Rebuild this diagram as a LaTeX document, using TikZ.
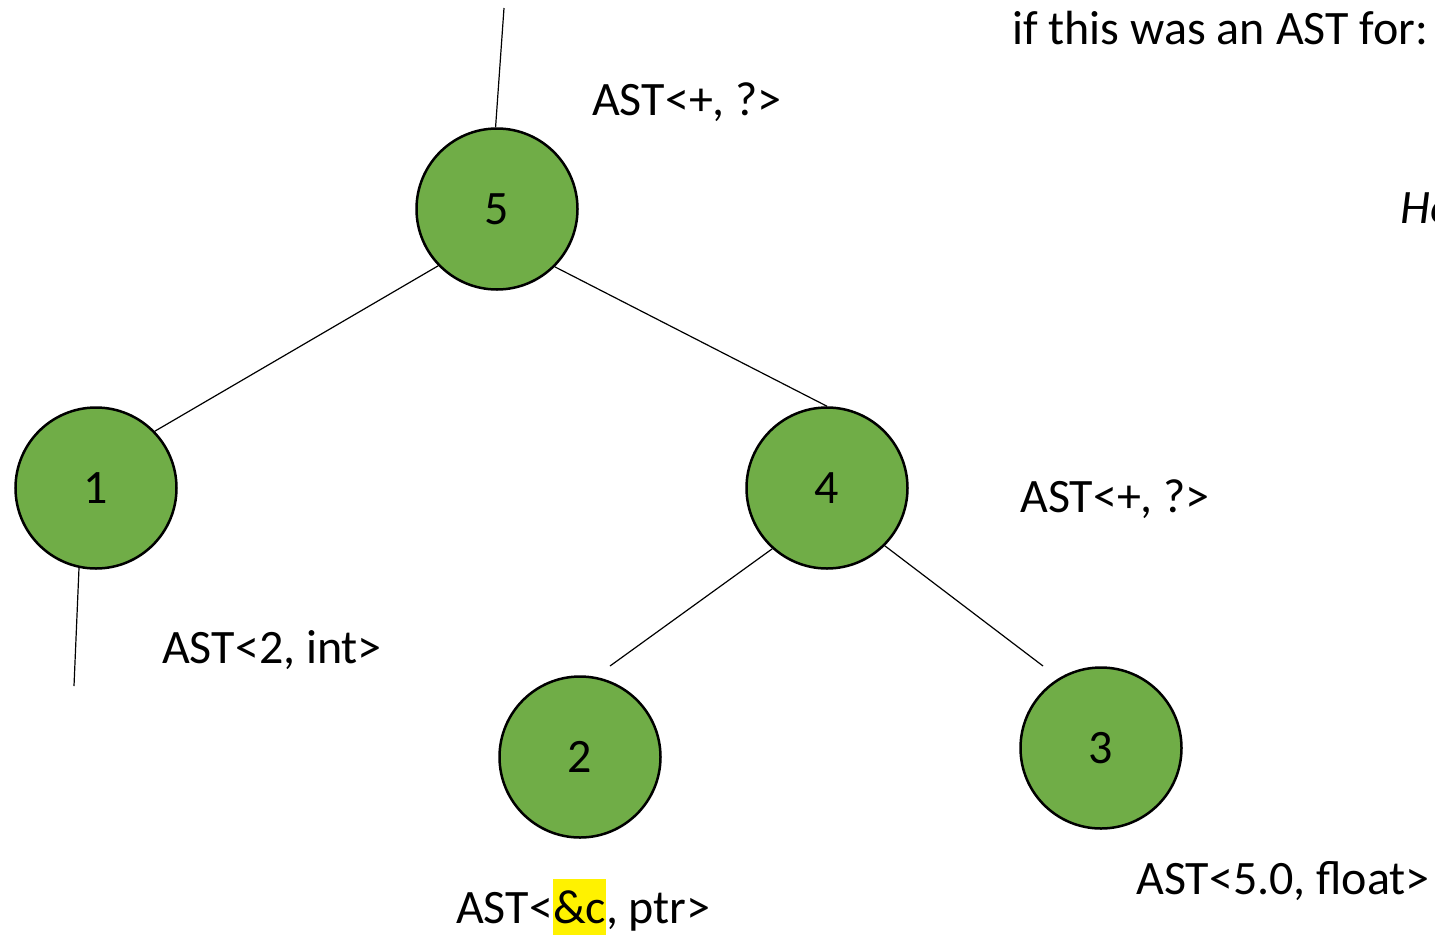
\documentclass[tikz,border=0pt]{standalone}
\usepackage{fontspec}
\setmainfont{Carlito}
\newcommand{\hlmark}[1]{{\setlength{\fboxsep}{0pt}\colorbox{yellow}{\rule[-12pt]{0pt}{56pt}#1}}}
\definecolor{leafgreen}{HTML}{70AD47}
\begin{document}
\begin{tikzpicture}[x=1pt,y=1pt,
  treenode/.style={circle,draw=black,line width=2.5pt,fill=leafgreen,
    minimum size=161pt,inner sep=0pt,font=\fontsize{48}{56}\selectfont},
  edge/.style={draw=black,line width=1.2pt},
  label/.style={anchor=base west,inner sep=0pt,font=\fontsize{48}{56}\selectfont}]
\useasboundingbox (0,0) rectangle (1435,-935);
\begin{scope}
\clip (0,0) rectangle (1435,-935);

% tree nodes
\node[treenode] (n5) at (497,-209) {5};
\node[treenode] (n1) at (96,-488) {1};
\node[treenode] (n4) at (827,-488) {4};
\node[treenode] (n2) at (580,-757) {2};
\node[treenode] (n3) at (1101,-748) {3};

% free line ends
\coordinate (topend) at (504,-8);
\coordinate (n1end) at (74,-686);
\coordinate (n2end) at (610,-666);
\coordinate (n3end) at (1043,-666);

% edges
\draw[edge] (n5.91) -- (topend);
\draw[edge] (n5.224) -- (n1.44);
\draw[edge] (n5.315) -- (n4.90);
\draw[edge] (n1.258) -- (n1end);
\draw[edge] (n4.228) -- (n2end);
\draw[edge] (n4.315) -- (n3end);

% type annotations
\node[label] (t5) at (592,-115) {AST<+, ?>};
\node[label] (t1) at (162,-663) {AST<2, int>};
\node[label] (t4) at (1020,-512) {AST<+, ?>};
\node[label] (t2) at (456,-923) {AST<\hlmark{\&c}, ptr>};
\node[label] (t3) at (1136,-894) {AST<5.0, float>};

% side notes
\node[label] (q) at (1012,-44) {if this was an AST for:};
\node[label] (he) at (1400,-223) {\itshape He};
\end{scope}
\end{tikzpicture}
\end{document}
